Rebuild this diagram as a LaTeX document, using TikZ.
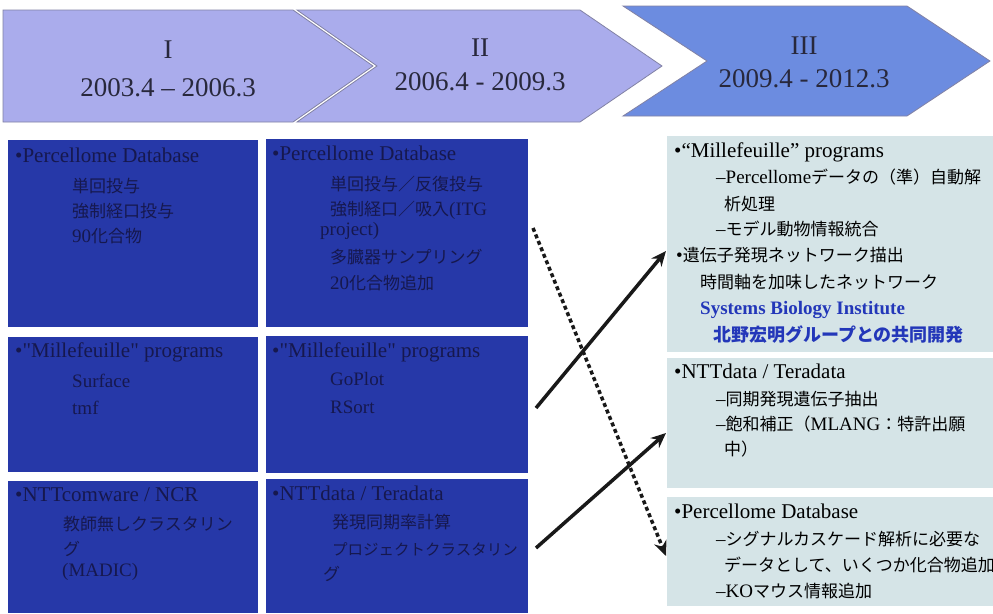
\documentclass[tikz,border=0pt]{standalone}
\usepackage{fontspec}
\setmainfont{Liberation Serif}[Ligatures=TeXOff]
\newfontfamily\jpfont{Noto Sans CJK JP}
\newcommand\J[1]{{\fontsize{17}{22}\jpfont #1}}
\newcommand\Jn[1]{{\fontsize{15.5}{22}\jpfont #1}}
\newcommand\JB[1]{{\fontsize{18}{22}\jpfont\bfseries #1}}
\usetikzlibrary{arrows.meta}
\definecolor{chevA}{RGB}{170,172,236}
\definecolor{chevB}{RGB}{108,140,224}
\definecolor{chevline}{RGB}{130,130,165}
\definecolor{darkbox}{RGB}{38,56,168}
\definecolor{darktext}{RGB}{22,24,78}
\definecolor{lightbox}{RGB}{213,228,231}
\definecolor{sbiblue}{RGB}{35,55,185}
\definecolor{chevtext}{RGB}{40,40,60}
\tikzset{
  chevI/.style={fill=chevA, draw=chevline, line width=0.8pt},
  chevIII/.style={fill=chevB, draw=chevline, line width=0.8pt},
  cv/.style={inner sep=0pt, text=chevtext, font=\fontsize{27}{30}\selectfont},
  hd/.style={anchor=west, inner sep=0pt, text height=15pt, text depth=4pt, font=\fontsize{21}{24}\selectfont},
  sb/.style={anchor=west, inner sep=0pt, text height=14pt, text depth=4pt, font=\fontsize{19}{22}\selectfont},
  dk/.style={text=darktext},
  sbi/.style={text=sbiblue},
  arr/.style={line width=3.5pt, draw=black!90, -{Stealth[length=15pt,width=13pt]}},
  darr/.style={arr, dash pattern=on 4pt off 3pt}
}
\begin{document}
\begin{tikzpicture}[x=1pt,y=-1pt]
\useasboundingbox (0,0) rectangle (993,613);
\fill[white] (0,0) rectangle (993,613);
% chevrons
\draw[chevI] (3,10) -- (293,10) -- (373,66) -- (293,122) -- (3,122) -- cycle;
\draw[chevI] (297,10) -- (580,10) -- (662,66) -- (580,122) -- (297,122) -- (377,66) -- cycle;
\draw[chevIII] (623,6) -- (907,6) -- (990,61) -- (907,116) -- (623,116) -- (707,61) -- cycle;
\node[cv] (c1n) at (168,50) {I};
\node[cv] (c1d) at (168,88) {2003.4 – 2006.3};
\node[cv] (c2n) at (480,48) {II};
\node[cv] (c2d) at (480,82) {2006.4 - 2009.3};
\node[cv] (c3n) at (804,46) {III};
\node[cv] (c3d) at (804,79) {2009.4 - 2012.3};
% left boxes
\fill[darkbox] (8,140) rectangle (258,327);
\fill[darkbox] (266,139) rectangle (528,327);
\fill[darkbox] (8,337) rectangle (258,472);
\fill[darkbox] (266,336) rectangle (528,473);
\fill[darkbox] (8,481) rectangle (258,613);
\fill[darkbox] (266,479) rectangle (528,613);
% right boxes
\fill[lightbox] (667,136) rectangle (993,352);
\fill[lightbox] (667,358) rectangle (993,488);
\fill[lightbox] (667,497) rectangle (993,606);
% left column 1
\node[hd,dk] (a1) at (15,157) {•Percellome Database};
\node[sb,dk] (a2) at (72,187) {\J{単回投与}};
\node[sb,dk] (a3) at (72,212) {\J{強制経口投与}};
\node[sb,dk] (a4) at (72,237) {90\J{化合物}};
\node[hd,dk] (c1) at (15,352) {•"Millefeuille" programs};
\node[sb,dk] (c2) at (72,382) {Surface};
\node[sb,dk] (c3) at (72,409) {tmf};
\node[hd,dk] (e1) at (15,496) {•NTTcomware / NCR};
\node[sb,dk] (e2) at (63,525) {\J{教師無しクラスタリン}};
\node[sb,dk] (e3) at (63,550) {\J{グ}};
\node[sb,dk] (e4) at (62,571) {(MADIC)};
% left column 2
\node[hd,dk] (b1) at (272,155) {•Percellome Database};
\node[sb,dk] (b2) at (330,185) {\J{単回投与／反復投与}};
\node[sb,dk] (b3) at (330,210) {\J{強制経口／吸入}(ITG};
\node[sb,dk] (b4) at (320,230) {project)};
\node[sb,dk] (b5) at (330,258) {\J{多臓器サンプリング}};
\node[sb,dk] (b6) at (330,284) {20\J{化合物追加}};
\node[hd,dk] (d1) at (272,352) {•"Millefeuille" programs};
\node[sb,dk] (d2) at (330,380) {GoPlot};
\node[sb,dk] (d3) at (330,408) {RSort};
\node[hd,dk] (f1) at (272,495) {•NTTdata / Teradata};
\node[sb,dk] (f2) at (332,523) {\J{発現同期率計算}};
\node[sb,dk] (f3) at (332,550) {\Jn{プロジェクトクラスタリン}};
\node[sb,dk] (f4) at (323,575) {\J{グ}};
% right box 1
\node[hd] (g1) at (674,152) {•“Millefeuille” programs};
\node[sb] (g2) at (716,178) {–Percellome\J{データの（準）自動解}};
\node[sb] (g3) at (724,205) {\J{析処理}};
\node[sb] (g4) at (716,230) {–\J{モデル動物情報統合}};
\node[sb] (g5) at (676,256) {•\J{遺伝子発現ネットワーク描出}};
\node[sb] (g6) at (700,283) {\J{時間軸を加味したネットワーク}};
\node[sb,sbi] (g7) at (700,309) {\bfseries Systems Biology Institute};
\node[sb,sbi] (g8) at (713,336) {\JB{北野宏明グループとの共同開発}};
% right box 2
\node[hd] (h1) at (674,373) {•NTTdata / Teradata};
\node[sb] (h2) at (716,400) {–\J{同期発現遺伝子抽出}};
\node[sb] (h3) at (716,425) {–\J{飽和補正（}MLANG\J{：特許出願}};
\node[sb] (h4) at (724,450) {\J{中）}};
% right box 3
\node[hd] (i1) at (674,513) {•Percellome Database};
\node[sb] (i2) at (716,540) {–\J{シグナルカスケード解析に必要な}};
\node[sb] (i3) at (724,566) {\J{データとして、いくつか化合物追加}};
\node[sb] (i4) at (716,592) {–KO\J{マウス情報追加}};
% arrows
\coordinate (s1) at (536,408); \coordinate (t1) at (666,251);
\coordinate (s2) at (536,548); \coordinate (t2) at (666,433);
\coordinate (s3) at (533,228); \coordinate (t3) at (666,556);
\draw[darr] (s3) -- (t3);
\draw[arr] (s1) -- (t1);
\draw[arr] (s2) -- (t2);
\end{tikzpicture}
\end{document}
